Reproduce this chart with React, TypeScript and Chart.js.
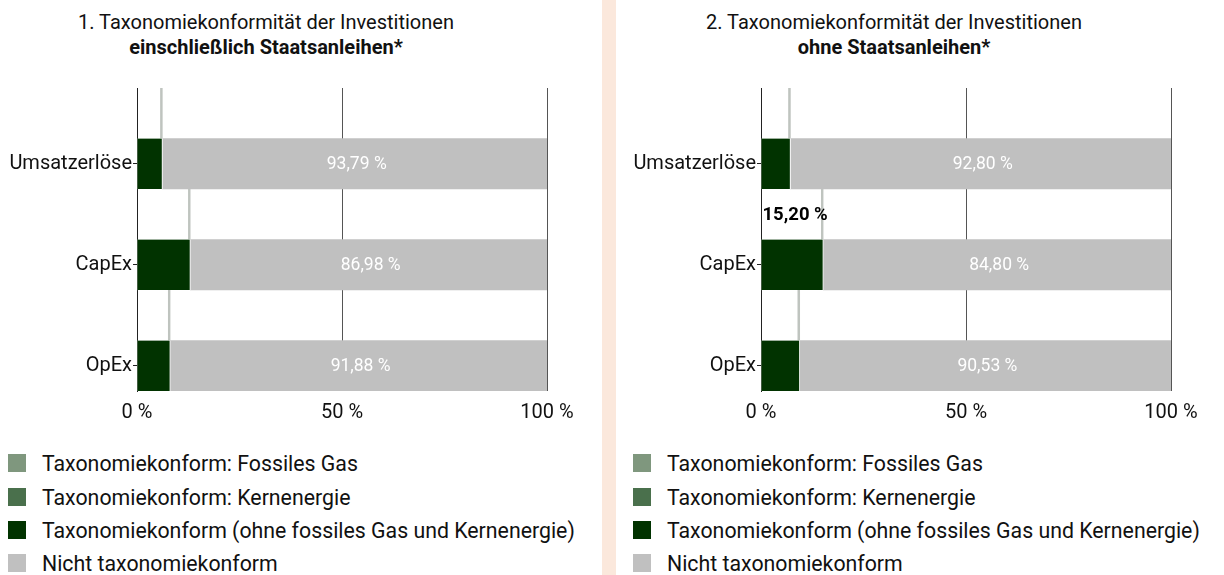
import React, { useEffect, useRef } from "react";
import { Chart, registerables } from "chart.js";
Chart.register(...registerables);

// ---- data ----
const categories = ["Umsatzerlöse", "CapEx", "OpEx"];
const xTickValues = [0, 50, 100];

const leftFossilGas = [0, 0, 0];
const leftNuclear = [0, 0, 0];
const leftAligned = [6.21, 13.02, 8.12];
const leftNotAligned = [93.79, 86.98, 91.88];
const leftTotalLabels = ["", "", ""];

const rightFossilGas = [0, 0, 0];
const rightNuclear = [0, 0, 0];
const rightAligned = [7.2, 15.2, 9.47];
const rightNotAligned = [92.8, 84.8, 90.53];
const rightTotalLabels = ["", "15,20 %", ""];

const legendLabels = [
  "Taxonomiekonform: Fossiles Gas",
  "Taxonomiekonform: Kernenergie",
  "Taxonomiekonform (ohne fossiles Gas und Kernenergie)",
  "Nicht taxonomiekonform",
];
const legendColors = ["#7f977e", "#4a704c", "#013300", "#c0c0c0"];

const FONT = "Roboto, 'Noto Sans', sans-serif";

const fmt = (v: number) => v.toFixed(2).replace(".", ",") + " %";

const barLabelPlugin = {
  id: "barLabels",
  afterDatasetsDraw(chart: any) {
    const ctx = chart.ctx;
    chart.data.datasets.forEach((ds: any, di: number) => {
      const texts = ds.labelTexts;
      if (!texts) return;
      const meta = chart.getDatasetMeta(di);
      meta.data.forEach((el: any, i: number) => {
        const t = texts[i];
        if (!t) return;
        const { x, y, base } = el.getProps(["x", "y", "base"], true);
        ctx.save();
        ctx.textBaseline = "middle";
        if (ds.labelStyle === "center") {
          ctx.font = `17.5px ${FONT}`;
          ctx.fillStyle = "#ffffff";
          ctx.textAlign = "center";
          ctx.fillText(t, (x + base) / 2 + 2, y + 1);
        } else {
          ctx.font = `bold 18.5px ${FONT}`;
          ctx.fillStyle = "#000000";
          ctx.textAlign = "left";
          ctx.fillText(t, Math.min(x, base) + 1, y + 1);
        }
        ctx.restore();
      });
    });
  },
};

function spread(vals: (number | string)[], upper: boolean) {
  const out: any[] = [];
  vals.forEach((v) => {
    if (upper) {
      out.push(v);
      out.push(null);
    } else {
      out.push(null);
      out.push(v);
    }
  });
  return out;
}

function PanelChart(props: {
  fossil: number[];
  nuclear: number[];
  aligned: number[];
  notAligned: number[];
  totalLabels: string[];
  yWidth: number;
  padRight: number;
  width: number;
}) {
  const ref = useRef<HTMLCanvasElement>(null);
  useEffect(() => {
    if (!ref.current) return;
    const rows: string[] = [];
    categories.forEach((c) => {
      rows.push("");
      rows.push(c);
    });
    const totals = props.aligned.map(
      (v, i) => v + props.fossil[i] + props.nuclear[i]
    );
    const chart = new Chart(ref.current, {
      type: "bar",
      data: {
        labels: rows,
        datasets: [
          {
            label: legendLabels[0],
            data: spread(props.fossil, false),
            backgroundColor: legendColors[0],
            borderWidth: 0,
            barPercentage: 1,
            categoryPercentage: 1,
          },
          {
            label: legendLabels[1],
            data: spread(props.nuclear, false),
            backgroundColor: legendColors[1],
            borderWidth: 0,
            barPercentage: 1,
            categoryPercentage: 1,
          },
          {
            label: legendLabels[2],
            data: spread(props.aligned, false),
            backgroundColor: legendColors[2],
            borderColor: "#ffffff",
            borderWidth: { left: 0, top: 0, bottom: 0, right: 1 },
            barPercentage: 1,
            categoryPercentage: 1,
          },
          {
            label: legendLabels[3],
            data: spread(props.notAligned, false),
            backgroundColor: legendColors[3],
            borderWidth: 0,
            barPercentage: 1,
            categoryPercentage: 1,
            labelTexts: spread(props.notAligned.map(fmt), false),
            labelStyle: "center",
          } as any,
          {
            label: "total",
            data: spread(totals, true),
            backgroundColor: "rgba(255,255,255,0)",
            borderColor: "#bfc4bf",
            borderWidth: { left: 0, top: 0, bottom: 0, right: 2 },
            borderSkipped: false,
            barPercentage: 1,
            categoryPercentage: 1,
            labelTexts: spread(props.totalLabels, true),
            labelStyle: "start",
          } as any,
        ],
      },
      options: {
        indexAxis: "y",
        animation: false,
        responsive: false,
        maintainAspectRatio: false,
        layout: { padding: { top: 10, right: props.padRight, left: 0, bottom: 0 } },
        plugins: {
          legend: { display: false },
          tooltip: { enabled: false },
        },
        scales: {
          x: {
            stacked: true,
            min: 0,
            max: 100,
            afterBuildTicks: (s: any) => {
              s.ticks = xTickValues.map((v) => ({ value: v }));
            },
            afterFit: (s: any) => {
              s.height = 34;
            },
            ticks: {
              callback: (v: any) => v + " %",
              font: { family: FONT, size: 20 },
              color: "#111111",
              padding: 10,
              maxRotation: 0,
            },
            grid: { color: "#555555", drawTicks: false, lineWidth: 1 },
            border: { display: false },
          },
          y: {
            stacked: true,
            afterFit: (s: any) => {
              s.width = props.yWidth;
            },
            ticks: {
              font: { family: FONT, size: 20 },
              color: "#111111",
              padding: 1,
              autoSkip: false,
            },
            grid: {
              offset: false,
              drawOnChartArea: false,
              drawTicks: true,
              tickLength: 4,
              tickColor: (c: any) =>
                c.tick && c.tick.label ? "#222222" : "rgba(0,0,0,0)",
            },
            border: { color: "#222222", width: 1 },
          },
        },
      },
      plugins: [barLabelPlugin],
    } as any);
    return () => chart.destroy();
  }, []);
  return (
    <canvas
      ref={ref}
      width={props.width}
      height={350}
      style={{ width: props.width, height: 350, display: "block" }}
    />
  );
}

function Legend(props: { left: number }) {
  const rowsY = [463, 497, 530, 563];
  return (
    <>
      {legendLabels.map((l, i) => (
        <div
          key={l}
          style={{
            position: "absolute",
            left: props.left,
            top: rowsY[i] - 13,
            height: 26,
            display: "flex",
            alignItems: "center",
            fontFamily: FONT,
            fontSize: 21.3,
            color: "#111",
            whiteSpace: "nowrap",
          }}
        >
          <span
            style={{
              display: "inline-block",
              width: 18,
              height: 18,
              background: legendColors[i],
              marginRight: 16,
            }}
          />
          {l}
        </div>
      ))}
    </>
  );
}

function Title(props: { center: number; line1: string; line2: string }) {
  return (
    <div
      style={{
        position: "absolute",
        left: props.center - 250,
        width: 500,
        top: 10,
        textAlign: "center",
        fontFamily: FONT,
        fontSize: 20,
        lineHeight: "25px",
        color: "#111",
      }}
    >
      <div>{props.line1}</div>
      <div style={{ fontWeight: 700 }}>{props.line2}</div>
    </div>
  );
}

export default function App() {
  return (
    <div
      style={{
        position: "fixed",
        left: 0,
        top: 0,
        width: 1224,
        height: 575,
        background: "#ffffff",
        overflow: "hidden",
      }}
    >
      <div
        style={{
          position: "absolute",
          left: 602,
          top: 0,
          width: 14,
          height: 575,
          background: "#fbe8dc",
        }}
      />
      <Title
        center={266}
        line1="1. Taxonomiekonformität der Investitionen"
        line2="einschließlich Staatsanleihen*"
      />
      <Title
        center={894}
        line1="2. Taxonomiekonformität der Investitionen"
        line2="ohne Staatsanleihen*"
      />
      <div style={{ position: "absolute", left: 0, top: 75 }}>
        <PanelChart
          fossil={leftFossilGas}
          nuclear={leftNuclear}
          aligned={leftAligned}
          notAligned={leftNotAligned}
          totalLabels={leftTotalLabels}
          yWidth={137}
          padRight={55}
          width={602}
        />
      </div>
      <div style={{ position: "absolute", left: 616, top: 75 }}>
        <PanelChart
          fossil={rightFossilGas}
          nuclear={rightNuclear}
          aligned={rightAligned}
          notAligned={rightNotAligned}
          totalLabels={rightTotalLabels}
          yWidth={145}
          padRight={53}
          width={608}
        />
      </div>
      <Legend left={8} />
      <Legend left={633} />
    </div>
  );
}
